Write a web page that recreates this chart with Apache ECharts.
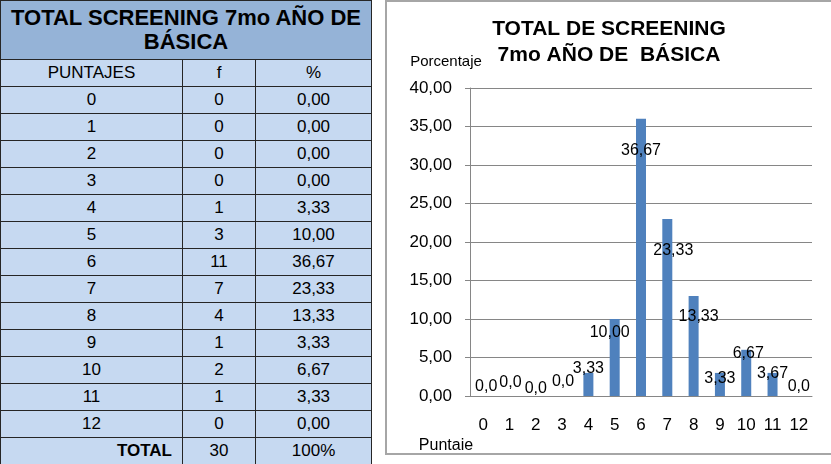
<!DOCTYPE html>
<html>
<head>
<meta charset="utf-8">
<script src="https://cdn.jsdelivr.net/npm/echarts@6/dist/echarts.min.js"></script>
<style>
body { margin:0; width:831px; height:464px; overflow:hidden; background:#fff; font-family:"Liberation Sans", Arial, sans-serif; }
#tabla { position:absolute; left:0; top:0; width:371px; border-collapse:collapse; table-layout:fixed; }
#tabla td { border:1px solid #262626; background:#c6d9f1; color:#000; font-size:17px; text-align:center; padding:0; height:26px; line-height:20px; }
#tabla td.tit { background:#95b3d7; font-weight:bold; font-size:22px; line-height:24px; height:58px; }
#tabla td.tot { text-align:right; font-weight:bold; padding-right:10px; }
#main { position:absolute; left:385px; top:0; width:444px; height:451px; border:2px solid #a6a6a6; border-right:none; }
</style>
</head>
<body>
<table id="tabla"></table>
<div id="main"></div>
<script>
// datos de la tabla
let puntajes = [0, 1, 2, 3, 4, 5, 6, 7, 8, 9, 10, 11, 12];
let frecuencias = [0, 0, 0, 0, 1, 3, 11, 7, 4, 1, 2, 1, 0];
let porcentajes = [0, 0, 0, 0, 3.33, 10, 36.67, 23.33, 13.33, 3.33, 6.67, 3.33, 0];
// alturas de barras y etiquetas tal como salen en el grafico
let barras = [0, 0, 0, 0, 3, 10, 36, 23, 13, 3, 6, 3, 0];
let etiquetas = ['0,0', '0,0', '0,0', '0,0', '3,33', '10,00', '36,67', '23,33', '13,33', '3,33', '6,67', '3,67', '0,0'];
let desX = [3, 1, 0, 1, 0, -5, 0, 6, 5, 0, 2, 0, 0];
let desY = [-1, -5, 1, -6, 4, 22, 40, 40, 29, 14, 12, 9, -1];

const coma = (v) => v.toFixed(2).replace('.', ',');

// tabla
let html = '<colgroup><col style="width:182px"><col style="width:73px"><col style="width:116px"></colgroup>';
html += '<tr><td class="tit" colspan="3">TOTAL SCREENING 7mo AÑO DE<br>BÁSICA</td></tr>';
html += '<tr><td>PUNTAJES</td><td>f</td><td>%</td></tr>';
puntajes.forEach((p, i) => {
    html += '<tr><td>' + p + '</td><td>' + frecuencias[i] + '</td><td>' + coma(porcentajes[i]) + '</td></tr>';
});
let total = frecuencias.reduce((a, b) => a + b, 0);
html += '<tr><td class="tot">TOTAL</td><td>' + total + '</td><td>100%</td></tr>';
document.getElementById('tabla').innerHTML = html;

let myChart = echarts.init(document.getElementById('main'));
let gris = '#868686';
let option = {
    animation: false,
    textStyle: { fontFamily: '"Liberation Sans", Arial, sans-serif' },
    title: {
        text: 'TOTAL DE SCREENING\n7mo AÑO DE  BÁSICA',
        left: 'center',
        top: 9,
        textStyle: { fontSize: 21, fontWeight: 'bold', color: '#000', lineHeight: 26 }
    },
    grid: { left: 83, right: 19, top: 86, bottom: 57 },
    graphic: [
        { type: 'text', x: 59, y: 60, style: { text: 'Porcentaje', fontSize: 15, fill: '#000', align: 'center', verticalAlign: 'middle', fontFamily: '"Liberation Sans", Arial' } },
        { type: 'text', x: 59, y: 444, style: { text: 'Puntaie', fontSize: 16, fill: '#000', align: 'center', verticalAlign: 'middle', fontFamily: '"Liberation Sans", Arial' } }
    ],
    xAxis: {
        type: 'category',
        data: puntajes.map(String),
        axisLine: { lineStyle: { color: gris } },
        axisTick: { length: 5, lineStyle: { color: gris } },
        axisLabel: { color: '#000', fontSize: 17, margin: 21 }
    },
    yAxis: {
        type: 'value',
        min: 0,
        max: 40,
        interval: 5,
        axisLine: { show: true, lineStyle: { color: gris } },
        axisTick: { show: true, length: 5, lineStyle: { color: gris } },
        splitLine: { lineStyle: { color: gris } },
        axisLabel: { color: '#000', fontSize: 17, margin: 18, formatter: coma }
    },
    series: [{
        type: 'bar',
        barWidth: 10,
        itemStyle: { color: '#4f81bd' },
        label: {
            show: true,
            position: 'top',
            distance: 0,
            fontSize: 16,
            lineHeight: 16,
            color: '#000',
            formatter: (p) => etiquetas[p.dataIndex]
        },
        data: barras.map((v, i) => ({ value: v, label: { offset: [desX[i], desY[i]] } }))
    }]
};
myChart.setOption(option);
</script>
</body>
</html>
